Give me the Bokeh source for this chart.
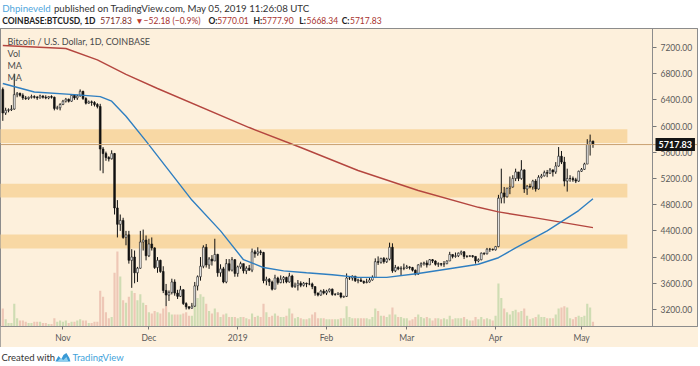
import pandas as pd
from bokeh.plotting import figure
from bokeh.models import (ColumnDataSource, Range1d, Label, FixedTicker, Span, PrintfTickFormatter,
                          LinearAxis)
from bokeh.layouts import column
from bokeh.embed import file_html
from bokeh.resources import INLINE

# ---------------- data ----------------
start_date = "2018-10-11"

opens = [
    # Oct 11-31
    6560, 6200, 6240, 6250, 6260, 6480, 6500, 6470, 6430, 6420, 6440, 6450, 6440, 6430, 6460, 6440, 6430, 6450, 6440, 6270, 6280,
    # Nov
    6330, 6380, 6410, 6380, 6470, 6430, 6460, 6530, 6420, 6350, 6370, 6360, 6330, 6300, 5650, 5580, 5520, 5500, 5580, 4750,
    4500, 4560, 4300, 4340, 3950, 4000, 3760, 3830, 4230, 4260,
    # Dec
    4020, 4200, 4140, 3840, 3950, 3780, 3490, 3420, 3460, 3620, 3450, 3400, 3500, 3290, 3240, 3220, 3250, 3560, 3700, 3860,
    4150, 3880, 3970, 3940, 4040, 3760, 3820, 3620, 3900, 3800, 3960,
    # Jan
    3750, 3850, 3900, 3790, 3830, 3800, 4080, 4050, 4080, 4070, 3640, 3660, 3620, 3510, 3680, 3610, 3660, 3690, 3620, 3710,
    3550, 3570, 3600, 3570, 3600, 3590, 3590, 3550, 3450, 3420, 3480,
    # Feb
    3450, 3480, 3510, 3430, 3430, 3450, 3390, 3400, 3680, 3680, 3710, 3640, 3650, 3630, 3610, 3620, 3650, 3690, 3930, 3920,
    3980, 3930, 3970, 4150, 3790, 3840, 3820, 3830,
    # Mar
    3830, 3850, 3840, 3800, 3740, 3880, 3900, 3910, 3880, 3960, 3940, 3890, 3900, 3890, 3900, 3940, 4040, 4010, 4020, 4060,
    4080, 4010, 4010, 4020, 4010, 3940, 3960, 4060, 4050, 4120, 4120,
    # Apr
    4110, 4160, 4900, 4980, 4920, 5050, 5070, 5200, 5300, 5200, 5330, 5040, 5080, 5070, 5160, 5040, 5220, 5240, 5290, 5280,
    5330, 5300, 5390, 5540, 5450, 5160, 5200, 5200, 5180, 5160,
    # May 1-5
    5310, 5340, 5420, 5720, 5770.01]

highs = [
    6590, 6280, 6270, 6320, 6800, 6520, 6510, 6500, 6460, 6450, 6480, 6470, 6460, 6480, 6470, 6470, 6460, 6470, 6450, 6310, 6350,
    6400, 6430, 6420, 6490, 6480, 6480, 6560, 6540, 6440, 6390, 6390, 6380, 6350, 6340, 5680, 5610, 5540, 5630, 5590, 4870,
    4650, 4600, 4400, 4400, 4120, 4100, 3850, 4400, 4420, 4330,
    4280, 4300, 4150, 4000, 3960, 3860, 3590, 3490, 3670, 3660, 3500, 3560, 3510, 3310, 3250, 3300, 3620, 3720, 4000, 4180,
    4200, 4000, 4030, 4280, 4050, 3890, 3850, 3970, 3970, 4000, 3970,
    3870, 3930, 3900, 3860, 3880, 4130, 4110, 4150, 4110, 4080, 3700, 3680, 3640, 3730, 3700, 3720, 3710, 3700, 3760, 3730,
    3610, 3650, 3630, 3620, 3610, 3680, 3610, 3550, 3460, 3500, 3510,
    3500, 3520, 3520, 3450, 3460, 3460, 3410, 3750, 3700, 3720, 3710, 3670, 3680, 3640, 3670, 3680, 3720, 3980, 4010, 3990,
    4000, 3990, 4220, 4210, 3880, 3860, 3860, 3900,
    3880, 3860, 3850, 3810, 3890, 3920, 3930, 3950, 3970, 3970, 3950, 3920, 3910, 3940, 3950, 4080, 4040, 4070, 4070, 4100,
    4090, 4030, 4030, 4030, 4010, 3980, 4070, 4070, 4140, 4140, 4130,
    4170, 4950, 5350, 5070, 5060, 5230, 5250, 5350, 5300, 5480, 5340, 5100, 5120, 5180, 5190, 5250, 5270, 5320, 5330, 5360,
    5340, 5450, 5680, 5620, 5530, 5350, 5250, 5230, 5210, 5320,
    5360, 5440, 5800, 5870, 5777.90]

lows = [
    6080, 6170, 6210, 6230, 6250, 6440, 6450, 6400, 6400, 6400, 6420, 6420, 6400, 6420, 6420, 6410, 6410, 6420, 6240, 6250, 6240,
    6320, 6360, 6360, 6370, 6400, 6400, 6450, 6400, 6330, 6340, 6310, 6300, 6270, 5320, 5280, 5470, 5460, 5490, 4650, 4300,
    4400, 4280, 4180, 3900, 3530, 3600, 3620, 3820, 4100, 3950,
    4000, 4100, 3820, 3760, 3760, 3450, 3250, 3330, 3430, 3410, 3360, 3390, 3270, 3200, 3200, 3210, 3240, 3490, 3640, 3830,
    3840, 3820, 3870, 3940, 3700, 3700, 3600, 3600, 3780, 3780, 3700,
    3700, 3820, 3750, 3740, 3790, 3770, 3990, 4020, 4030, 3600, 3570, 3560, 3490, 3510, 3580, 3600, 3600, 3600, 3610, 3530,
    3530, 3490, 3540, 3550, 3540, 3570, 3510, 3410, 3400, 3410, 3430,
    3420, 3460, 3410, 3410, 3420, 3370, 3380, 3390, 3650, 3640, 3620, 3600, 3620, 3590, 3600, 3610, 3640, 3680, 3880, 3900,
    3900, 3910, 3950, 3760, 3770, 3800, 3720, 3800,
    3820, 3810, 3780, 3720, 3730, 3840, 3870, 3840, 3880, 3910, 3870, 3850, 3860, 3850, 3890, 3940, 3980, 3990, 4000, 4030,
    3970, 3990, 4000, 3990, 3900, 3920, 3950, 4030, 4040, 4080, 4100,
    4100, 4150, 4820, 4820, 4910, 4960, 5060, 5160, 5160, 5180, 4980, 4950, 5050, 5030, 5000, 5030, 5200, 5230, 5220, 5270,
    5230, 5270, 5380, 5420, 5080, 5000, 5150, 5150, 5130, 5150,
    5300, 5330, 5420, 5550, 5668.34]

closes = [
    6200, 6240, 6250, 6260, 6480, 6500, 6470, 6430, 6420, 6440, 6450, 6440, 6430, 6460, 6440, 6430, 6450, 6440, 6270, 6280, 6330,
    6380, 6410, 6380, 6470, 6430, 6460, 6530, 6420, 6350, 6370, 6360, 6330, 6300, 5650, 5580, 5520, 5500, 5580, 4750, 4500,
    4560, 4300, 4340, 3950, 4000, 3760, 3830, 4230, 4260, 4020,
    4200, 4140, 3840, 3950, 3780, 3490, 3420, 3460, 3620, 3450, 3400, 3500, 3290, 3240, 3220, 3250, 3560, 3700, 3860, 4150,
    3880, 3970, 3940, 4040, 3760, 3820, 3620, 3900, 3800, 3960, 3750,
    3850, 3900, 3790, 3830, 3800, 4080, 4050, 4080, 4070, 3640, 3660, 3620, 3510, 3680, 3610, 3660, 3690, 3620, 3710, 3550,
    3570, 3600, 3570, 3600, 3590, 3590, 3550, 3450, 3420, 3480, 3450,
    3480, 3510, 3430, 3430, 3450, 3390, 3400, 3680, 3680, 3710, 3640, 3650, 3630, 3610, 3620, 3650, 3690, 3930, 3920, 3980,
    3930, 3970, 4150, 3790, 3840, 3820, 3830, 3830,
    3850, 3840, 3800, 3740, 3880, 3900, 3910, 3880, 3960, 3940, 3890, 3900, 3890, 3900, 3940, 4040, 4010, 4020, 4060, 4080,
    4010, 4010, 4020, 4010, 3940, 3960, 4060, 4050, 4120, 4120, 4110,
    4160, 4900, 4980, 4920, 5050, 5070, 5200, 5300, 5200, 5330, 5040, 5080, 5070, 5160, 5040, 5220, 5240, 5290, 5280, 5330,
    5300, 5390, 5540, 5450, 5160, 5200, 5200, 5180, 5160, 5310,
    5340, 5420, 5720, 5770.01, 5717.83]

# daily volume (thousand BTC)
volumes = [
    15, 6, 3, 3, 19, 7, 5, 5, 4, 3, 3, 4, 4, 4, 3, 3, 2, 2, 7, 4, 5,
    4, 5, 3, 4, 4, 5, 6, 5, 5, 3, 3, 4, 4, 30, 25, 12, 7, 8, 45, 63, 42, 22, 20, 25, 30, 28, 22, 27, 20, 18,
    12, 11, 13, 12, 11, 15, 17, 12, 10, 10, 10, 10, 11, 12, 9, 9, 20, 24, 27, 25, 19, 13, 11, 15, 12, 8, 10, 11, 8, 8, 8,
    7, 8, 8, 7, 6, 11, 8, 9, 8, 19, 12, 8, 9, 11, 9, 8, 8, 9, 15, 11, 7, 8, 7, 6, 6, 7, 10, 12, 7, 7, 7,
    6, 6, 6, 6, 6, 7, 7, 17, 8, 7, 7, 7, 7, 7, 7, 6, 8, 15, 13, 9, 9, 8, 10, 16, 10, 8, 8, 7,
    7, 5, 6, 8, 10, 8, 7, 8, 7, 5, 7, 7, 6, 7, 6, 9, 6, 7, 7, 7, 8, 6, 5, 5, 8, 6, 8, 6, 7, 6, 5,
    9, 36, 24, 15, 12, 10, 13, 14, 12, 13, 15, 9, 6, 7, 8, 10, 8, 8, 7, 7, 7, 10, 15, 16, 17, 16, 7, 6, 8, 9,
    8, 9, 19, 16, 4]

# moving averages, read at sample dates
ma50_dates = ["2018-10-11", "2018-10-22", "2018-11-05", "2018-11-14", "2018-11-18", "2018-11-23", "2018-11-30",
              "2018-12-08", "2018-12-16", "2018-12-26", "2019-01-03", "2019-01-10", "2019-01-17", "2019-01-25",
              "2019-02-03", "2019-02-12", "2019-02-22", "2019-03-05", "2019-03-17", "2019-03-26", "2019-04-02",
              "2019-04-08", "2019-04-19", "2019-04-30", "2019-05-05"]
ma50_vals = [6650, 6520, 6480, 6450, 6380, 6150, 5770, 5320, 4870, 4400, 3960, 3840, 3790, 3760,
             3730, 3690, 3690, 3750, 3830, 3890, 3990, 4140, 4400, 4710, 4890]

ma200_dates = ["2018-10-11", "2018-11-02", "2018-11-13", "2018-11-23", "2018-12-04", "2019-01-05", "2019-01-23",
               "2019-02-12", "2019-03-05", "2019-03-26", "2019-04-02", "2019-04-16", "2019-05-05"]
ma200_vals = [7230, 7185, 7010, 6790, 6574, 5978, 5673, 5322, 5016, 4760, 4690, 4590, 4450]

# support / resistance zones
zone_lows = [5740, 4910, 4130]
zone_highs = [5950, 5120, 4345]
zone_start = "2018-10-01"
zone_end = "2019-05-17"

price_ticks = [3200, 3600, 4000, 4400, 4800, 5200, 5600, 6000, 6400, 6800, 7200]
month_ticks = ["2018-11-01", "2018-12-01", "2019-01-01", "2019-02-01", "2019-03-01", "2019-04-01", "2019-05-01"]
month_labels = ["Nov", "Dec", "2019", "Feb", "Mar", "Apr", "May"]

# ---------------- styling / layout ----------------
FONT = "Lato"
CREAM = "#fdf0dc"
ZONE = "#f8d8a4"
FRAME = "#8c8c8c"
AXTXT = "#5a5a5a"
BLUE = "#2f7fc1"
RED = "#b4463f"
NUMRED = "#a8322d"
DAY = 86400000
W = 698
PX_PER_DAY = 2.865      # horizontal scale of the pane
FIRST_BAR_PX = 2.3      # pixel position of the first bar
AXIS_PX = 652           # pixel position of the price scale
Y_LO, Y_HI = 2940, 7490

n = len(closes)
assert len(opens) == n and len(highs) == n and len(lows) == n and len(volumes) == n
dates = pd.date_range(start_date, periods=n, freq="D")
up = [c >= o for o, c in zip(opens, closes)]

src = ColumnDataSource(dict(
    date=dates, o=opens, h=highs, l=lows, c=closes, vol=volumes,
    top=[max(o, c) for o, c in zip(opens, closes)],
    bot=[min(o, c) for o, c in zip(opens, closes)],
    fill=["#ffffff" if u else "#111111" for u in up],
    vcol=["#cfdcb3" if u else "#eec7b6" for u in up],
))

first = dates[0]
frame_w = W - 1
x_start = first - pd.Timedelta(days=FIRST_BAR_PX / PX_PER_DAY)
x_end = first + pd.Timedelta(days=(frame_w - FIRST_BAR_PX) / PX_PER_DAY)
axis_loc = first + pd.Timedelta(days=(AXIS_PX - FIRST_BAR_PX) / PX_PER_DAY)
axis_ms = axis_loc.value / 1e6

p = figure(width=W, height=319, x_axis_type="datetime", y_axis_location="right",
           x_range=Range1d(x_start.to_pydatetime(), x_end.to_pydatetime()), y_range=Range1d(Y_LO, Y_HI),
           output_backend="svg", toolbar_location=None,
           min_border_left=0, min_border_right=1, min_border_top=0, min_border_bottom=21,
           background_fill_color=CREAM, border_fill_color=CREAM,
           outline_line_color=FRAME, outline_line_width=1)
p.styles = {"outline": "1px solid #8c8c8c", "outline-offset": "-1px"}
p.grid.visible = False
p.extra_y_ranges = {"vol": Range1d(0, 250)}

# zones
zsrc = ColumnDataSource(dict(left=[pd.Timestamp(zone_start)] * 3, right=[pd.Timestamp(zone_end)] * 3,
                             bottom=zone_lows, top=zone_highs))
p.quad(left="left", right="right", bottom="bottom", top="top", source=zsrc,
       fill_color=ZONE, line_color=None)

# volume
p.vbar(x="date", top="vol", bottom=0, width=0.75 * DAY, source=src, y_range_name="vol",
       fill_color="vcol", line_color=None)

# candles
p.segment(x0="date", x1="date", y0="l", y1="h", source=src, line_color="#111111", line_width=1)
p.vbar(x="date", top="top", bottom="bot", width=0.62 * DAY, source=src,
       fill_color="fill", line_color="#111111", line_width=0.6)

# moving averages
p.line(pd.to_datetime(ma200_dates), ma200_vals, line_color=RED, line_width=1.4)
p.line(pd.to_datetime(ma50_dates), ma50_vals, line_color=BLUE, line_width=1.4)

# last price line
p.add_layout(Span(location=closes[-1], dimension="width", line_color="#c9a070", line_width=1))
# separator line of the price scale
p.add_layout(Span(location=axis_ms, dimension="height", line_color=FRAME, line_width=1))

# price scale (drawn at its own place inside the pane)
p.yaxis.fixed_location = axis_ms
p.yaxis.ticker = FixedTicker(ticks=price_ticks)
p.yaxis.formatter = PrintfTickFormatter(format="%.2f")
tick_ms = [float(pd.Timestamp(t).value // 10**6) for t in month_ticks]
p.xaxis.ticker = FixedTicker(ticks=tick_ms)
p.xaxis.major_label_overrides = {t: lab for t, lab in zip(tick_ms, month_labels)}
for ax in (p.xaxis, p.yaxis):
    ax.major_label_text_font = FONT
    ax.major_label_text_font_size = "8.5px"
    ax.major_label_text_color = AXTXT
    ax.axis_line_color = FRAME
    ax.major_tick_line_color = "#777777"
    ax.minor_tick_line_color = None
    ax.major_tick_in = 0
p.yaxis.major_tick_out = 4
p.yaxis.major_label_standoff = 4
p.xaxis.major_tick_out = 3
p.xaxis.major_label_standoff = 3

# separator below the price scale, through the time-axis row
sep = LinearAxis(fixed_location=Y_LO, ticker=FixedTicker(ticks=[axis_ms]),
                 major_label_overrides={axis_ms: ""}, axis_line_color=None,
                 major_tick_line_color=FRAME, major_tick_out=20, major_tick_in=0,
                 minor_tick_line_color=None)
p.add_layout(sep, "below")

# legend-like texts inside the pane
for txt, yy in [("Bitcoin / U.S. Dollar, 1D, COINBASE", 285), ("Vol", 273), ("MA", 261), ("MA", 249)]:
    p.add_layout(Label(x=7, y=yy, x_units="screen", y_units="screen", text=txt,
                       text_font=FONT, text_font_size="9px", text_color="#4a4a4a",
                       text_baseline="middle"))

# last price tag on the price scale
tag = Label(x=AXIS_PX + 3, y=closes[-1], x_units="screen", y_units="data", text=f"{closes[-1]:.2f}",
            text_font=FONT, text_font_size="9px", text_color="#ffffff", text_font_style="bold",
            text_baseline="middle", background_fill_color="#141414")
try:
    tag.padding = 3
except Exception:
    pass
p.add_layout(tag)

# ---------------- header ----------------
hdr = figure(width=W, height=28, x_range=Range1d(0, W), y_range=Range1d(0, 28),
             output_backend="svg", toolbar_location=None, x_axis_location=None, y_axis_location=None,
             min_border=0, outline_line_color=None, background_fill_color="white", border_fill_color="white")
hdr.grid.visible = False

change = closes[-1] - opens[-1]
pct = change / opens[-1] * 100
minus = "\u2212" if change < 0 else "+"

line1 = [("Dhpineveld", 1.7, "#4fa6dc", "normal"),
         ("published on TradingView.com, May 05, 2019 11:26:08 UTC", 53.5, "#333333", "normal")]
line2 = [("COINBASE:BTCUSD, 1D", 1.7, "#222222", "bold"),
         (f"{closes[-1]:.2f}", 100, "#7d2b27", "normal"),
         ("\u25bc", 135, "#c0392b", "normal"),
         (f"{minus}{abs(change):.2f} ({minus}{abs(pct):.1f}%)", 143.3, NUMRED, "normal"),
         ("O:", 208.3, "#222222", "bold"), (f"{opens[-1]:.2f}", 217, NUMRED, "normal"),
         ("H:", 253.3, "#222222", "bold"), (f"{highs[-1]:.2f}", 262, NUMRED, "normal"),
         ("L:", 299.3, "#222222", "bold"), (f"{lows[-1]:.2f}", 306.5, NUMRED, "normal"),
         ("C:", 341.7, "#222222", "bold"), (f"{closes[-1]:.2f}", 350, NUMRED, "normal")]
for txt, xx, col, st in line1:
    hdr.add_layout(Label(x=xx, y=21, text=txt, text_font=FONT, text_font_size="9.7px",
                         text_color=col, text_font_style=st, text_baseline="middle"))
for txt, xx, col, st in line2:
    hdr.add_layout(Label(x=xx, y=8, text=txt, text_font=FONT, text_font_size="8.5px",
                         text_color=col, text_font_style=st, text_baseline="middle"))

# ---------------- footer ----------------
ftr = figure(width=W, height=15, x_range=Range1d(0, W), y_range=Range1d(0, 15),
             output_backend="svg", toolbar_location=None, x_axis_location=None, y_axis_location=None,
             min_border=0, outline_line_color=None, background_fill_color="white", border_fill_color="white")
ftr.grid.visible = False
ftr.add_layout(Label(x=1, y=5, text="Created with", text_font=FONT, text_font_size="9.5px",
                     text_color="#333333", text_baseline="middle"))
ftr.patch([55, 58, 61, 63, 66, 69, 70, 55], [1, 6.5, 3.5, 7.5, 9.5, 4.5, 1, 1], fill_color="#3a9ad6", line_color=None)
ftr.patch([57, 60, 63, 66, 68, 57], [1, 4.5, 2.5, 5.5, 1, 1], fill_color="#8fd0ef", line_color=None)
ftr.add_layout(Label(x=72, y=5, text="TradingView", text_font=FONT, text_font_size="9.5px",
                     text_color="#3fa3da", text_baseline="middle"))

layout = column(hdr, p, ftr, spacing=0)
open("out.html", "w").write(file_html(layout, INLINE))
